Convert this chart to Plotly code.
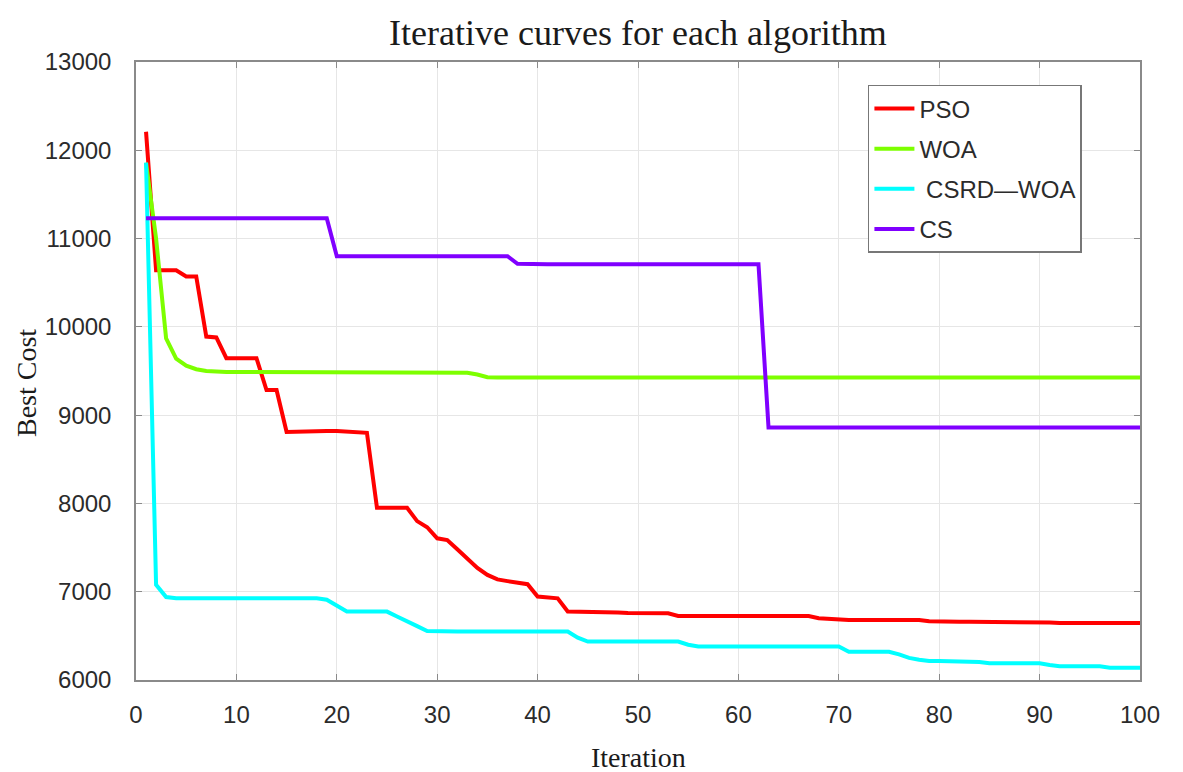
import plotly.graph_objects as go

iterations = list(range(1, 101))

pso = [12210, 10640, 10640, 10640, 10570, 10570, 9890, 9880, 9645, 9645,
       9645, 9645, 9285, 9285, 8810, 8815, 8820, 8820, 8820, 8820,
       8815, 8810, 8800, 7950, 7950, 7950, 7950, 7800, 7730, 7605,
       7585, 7480, 7380, 7270, 7190, 7140, 7120, 7100, 7085, 6945,
       6935, 6925, 6775, 6775, 6775, 6775, 6770, 6765, 6760, 6760,
       6760, 6760, 6755, 6725, 6725, 6725, 6725, 6725, 6725, 6725,
       6725, 6725, 6725, 6725, 6725, 6725, 6725, 6700, 6690, 6685,
       6680, 6680, 6680, 6680, 6680, 6680, 6680, 6680, 6665, 6660,
       6660, 6660, 6660, 6660, 6660, 6660, 6660, 6660, 6660, 6655,
       6650, 6645, 6645, 6645, 6645, 6645, 6645, 6645, 6645, 6645]

woa = [11860, 11000, 9870, 9640, 9560, 9520, 9500, 9490, 9490, 9490,
       9490, 9490, 9490, 9490, 9490, 9490, 9490, 9490, 9490, 9490,
       9490, 9490, 9490, 9490, 9490, 9490, 9490, 9490, 9490, 9490,
       9490, 9490, 9480, 9460, 9430, 9425, 9425, 9425, 9425, 9425,
       9425, 9425, 9425, 9425, 9425, 9425, 9425, 9425, 9425, 9425,
       9425, 9425, 9425, 9425, 9425, 9425, 9425, 9425, 9425, 9425,
       9425, 9425, 9425, 9425, 9425, 9425, 9425, 9425, 9425, 9425,
       9425, 9425, 9425, 9425, 9425, 9425, 9425, 9425, 9425, 9425,
       9425, 9425, 9425, 9425, 9425, 9425, 9425, 9425, 9425, 9425,
       9425, 9425, 9425, 9425, 9425, 9425, 9425, 9425, 9425, 9425]

csrd_woa = [11860, 7080, 6940, 6925, 6925, 6925, 6925, 6925, 6925, 6925,
            6925, 6925, 6925, 6925, 6925, 6925, 6925, 6925, 6910, 6840,
            6775, 6775, 6775, 6775, 6775, 6720, 6660, 6610, 6555, 6550,
            6550, 6550, 6550, 6550, 6550, 6550, 6550, 6550, 6550, 6550,
            6550, 6550, 6550, 6480, 6435, 6435, 6435, 6435, 6435, 6435,
            6435, 6435, 6435, 6435, 6400, 6380, 6380, 6380, 6380, 6380,
            6380, 6380, 6380, 6380, 6380, 6380, 6380, 6380, 6380, 6380,
            6320, 6320, 6320, 6320, 6320, 6290, 6250, 6230, 6215, 6215,
            6215, 6215, 6215, 6205, 6190, 6190, 6190, 6190, 6190, 6190,
            6170, 6155, 6155, 6155, 6155, 6155, 6140, 6140, 6140, 6140]

cs = [11230, 11230, 11230, 11230, 11230, 11230, 11230, 11230, 11230, 11230,
      11230, 11230, 11230, 11230, 11230, 11230, 11230, 11230, 11230, 10800,
      10800, 10800, 10800, 10800, 10800, 10800, 10800, 10800, 10800, 10800,
      10800, 10800, 10800, 10800, 10800, 10800, 10800, 10715, 10710, 10710,
      10710, 10710, 10710, 10710, 10710, 10710, 10710, 10710, 10710, 10710,
      10710, 10710, 10710, 10710, 10710, 10710, 10710, 10710, 10710, 10710,
      10710, 10710, 8860, 8860, 8860, 8860, 8860, 8860, 8860, 8860,
      8860, 8860, 8860, 8860, 8860, 8860, 8860, 8860, 8860, 8860,
      8860, 8860, 8860, 8860, 8860, 8860, 8860, 8860, 8860, 8860,
      8860, 8860, 8860, 8860, 8860, 8860, 8860, 8860, 8860, 8860]

series_names = ["PSO", "WOA", " CSRD\u2014WOA", "CS"]
series_values = [pso, woa, csrd_woa, cs]
series_colors = ["#ff0000", "#7dff00", "#00ffff", "#8000ff"]

x_ticks = [0, 10, 20, 30, 40, 50, 60, 70, 80, 90, 100]
y_ticks = [6000, 7000, 8000, 9000, 10000, 11000, 12000, 13000]

fig = go.Figure()
for name, vals, col in zip(series_names, series_values, series_colors):
    fig.add_trace(go.Scatter(x=iterations, y=vals, mode="lines", name=name,
                             legendgroup=name.strip(),
                             line=dict(color=col, width=4)))

tick_font = dict(family="Liberation Sans, Arial", size=24, color="#2b2b2b")
axis_common = dict(showgrid=True, gridcolor="#e6e6e6", gridwidth=1,
                   showline=True, linecolor="#8a8a8a", linewidth=1.5,
                   mirror="ticks", ticks="inside", ticklen=6, tickcolor="#8a8a8a",
                   zeroline=False, tickfont=tick_font)

fig.update_xaxes(range=[0, 100], tickvals=x_ticks, ticklabelstandoff=12, **axis_common)
fig.update_yaxes(range=[6000, 13000], tickvals=y_ticks, tickformat="d",
                 ticklabelstandoff=18, **axis_common)

fig.update_layout(
    width=1183, height=772,
    margin=dict(l=136, r=43, t=62, b=92),
    paper_bgcolor="white", plot_bgcolor="white",
    title=dict(text="Iterative curves for each algorithm",
               font=dict(family="Liberation Serif, Times New Roman, serif", size=36, color="#1a1a1a"),
               x=0.5, xref="paper", y=1 - 32 / 772, yref="container", yanchor="middle"),
    legend=dict(x=0.729, y=0.963, xanchor="left", yanchor="top",
                bgcolor="white", bordercolor="#777777", borderwidth=1.5,
                font=dict(family="Liberation Sans, Arial", size=24, color="#2b2b2b"),
                tracegroupgap=6, itemwidth=40),
    showlegend=True,
    annotations=[
        dict(text="Best Cost", xref="paper", yref="paper", x=(26 - 136) / 1004, y=(680 - 383) / 618,
             textangle=-90, showarrow=False, xanchor="center", yanchor="middle",
             font=dict(family="Liberation Serif, Times New Roman, serif", size=28, color="#1a1a1a")),
        dict(text="Iteration", xref="paper", yref="paper", x=0.5, y=(680 - 757) / 618,
             showarrow=False, xanchor="center", yanchor="middle",
             font=dict(family="Liberation Serif, Times New Roman, serif", size=28, color="#1a1a1a")),
    ],
)

fig.write_html("out.html")
